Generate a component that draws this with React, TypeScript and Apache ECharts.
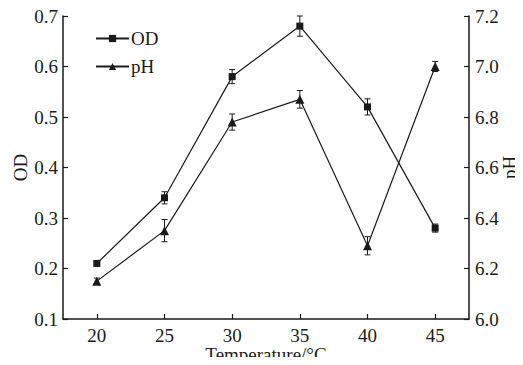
import React, { useEffect, useRef } from "react";
import * as echarts from "echarts";

const temperatures = ["20", "25", "30", "35", "40", "45"];
const odValues = [0.21, 0.34, 0.58, 0.68, 0.52, 0.28];
const odErrors = [0.004, 0.012, 0.014, 0.02, 0.016, 0.008];
const phValues = [6.15, 6.35, 6.78, 6.87, 6.29, 7.0];
const phErrors = [0.012, 0.044, 0.032, 0.035, 0.036, 0.02];

const INK = "#1a1a1a";
const FONT = "'Liberation Serif', 'Times New Roman', serif";

function errorSeries(values: number[], errors: number[], yAxisIndex: number) {
  return {
    type: "custom",
    yAxisIndex,
    silent: true,
    z: 3,
    data: values.map((v, i) => [i, v - errors[i], v + errors[i]]),
    renderItem: (params: any, api: any) => {
      const x = api.value(0);
      const lo = api.coord([x, api.value(1)]);
      const hi = api.coord([x, api.value(2)]);
      const cap = 3;
      const style = { stroke: INK, lineWidth: 1 };
      return {
        type: "group",
        children: [
          { type: "line", shape: { x1: lo[0], y1: lo[1], x2: hi[0], y2: hi[1] }, style },
          { type: "line", shape: { x1: lo[0] - cap, y1: lo[1], x2: lo[0] + cap, y2: lo[1] }, style },
          { type: "line", shape: { x1: hi[0] - cap, y1: hi[1], x2: hi[0] + cap, y2: hi[1] }, style },
        ],
      };
    },
  };
}

export default function App() {
  const ref = useRef<HTMLDivElement>(null);
  useEffect(() => {
    if (!ref.current) return;
    const chart = echarts.init(ref.current, undefined, { renderer: "svg" });
    const axisLine = { show: true, lineStyle: { color: INK, width: 1.5 } };
    const axisTick = { show: true, inside: true, length: 5, lineStyle: { color: INK, width: 1.2 } };
    const labelStyle = { color: INK, fontFamily: FONT, fontSize: 19, lineHeight: 19 };
    chart.setOption({
      animation: false,
      backgroundColor: "#fff",
      grid: { left: 63, right: 54, top: 16, bottom: 46, outerBoundsMode: "none", containLabel: false },
      legend: {
        orient: "vertical",
        left: 90,
        top: 24,
        itemGap: 9,
        itemWidth: 33,
        itemHeight: 9,
        textStyle: { ...labelStyle, padding: [0, 0, 0, -3] },
        data: ["OD", "pH"],
      },
      xAxis: {
        type: "category",
        data: temperatures,
        boundaryGap: true,
        name: "Temperature/°C",
        nameLocation: "middle",
        nameGap: 26,
        nameMoveOverlap: false,
        nameTextStyle: labelStyle,
        axisLine,
        axisTick: { ...axisTick, alignWithLabel: true },
        axisLabel: { ...labelStyle, margin: 7 },
        splitLine: { show: false },
      },
      yAxis: [
        {
          type: "value",
          min: 0.1,
          max: 0.7,
          interval: 0.1,
          name: "OD",
          nameLocation: "middle",
          nameRotate: 90,
          nameGap: 33,
          nameMoveOverlap: false,
          nameTextStyle: labelStyle,
          axisLine,
          axisTick,
          axisLabel: { ...labelStyle, margin: 5, formatter: (v: number) => v.toFixed(1) },
          splitLine: { show: false },
        },
        {
          type: "value",
          min: 6.0,
          max: 7.2,
          interval: 0.2,
          position: "right",
          name: "pH",
          nameLocation: "middle",
          nameRotate: 90,
          nameGap: 31,
          nameMoveOverlap: false,
          nameTextStyle: labelStyle,
          axisLine,
          axisTick,
          axisLabel: { ...labelStyle, margin: 6, formatter: (v: number) => v.toFixed(1) },
          splitLine: { show: false },
        },
      ],
      series: [
        {
          name: "OD",
          type: "line",
          data: odValues,
          yAxisIndex: 0,
          symbol: "rect",
          symbolSize: 7,
          itemStyle: { color: INK },
          lineStyle: { color: INK, width: 1.2 },
          z: 4,
        },
        {
          name: "pH",
          type: "line",
          data: phValues,
          yAxisIndex: 1,
          symbol: "triangle",
          symbolSize: 9,
          itemStyle: { color: INK },
          lineStyle: { color: INK, width: 1.2 },
          z: 4,
        },
        errorSeries(odValues, odErrors, 0),
        errorSeries(phValues, phErrors, 1),
      ],
    });
    return () => chart.dispose();
  }, []);
  return <div ref={ref} style={{ width: 523, height: 365, margin: -8 }} />;
}
